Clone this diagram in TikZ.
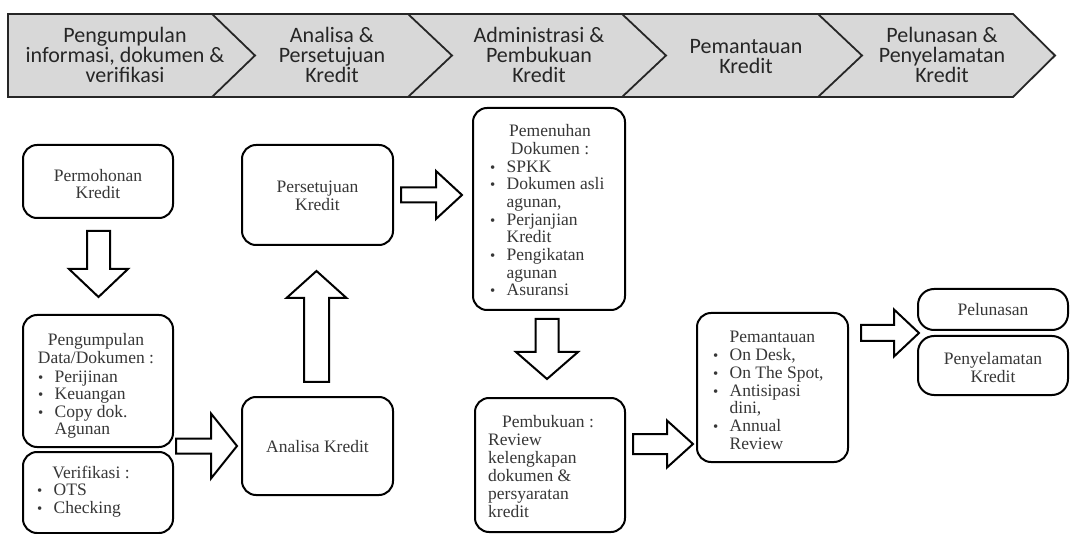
\documentclass[tikz,border=0pt]{standalone}
\usepackage{fontspec}
\setmainfont{Liberation Serif}
\newfontfamily\hdrfont{Carlito}
\usetikzlibrary{calc}

\definecolor{bandfill}{RGB}{216,216,216}
\definecolor{bandtext}{RGB}{38,38,38}
\definecolor{boxtext}{RGB}{55,55,55}

% bullet item with a fixed hanging indent
\newcommand\itm[1]{\makebox[16.5pt][l]{\scalebox{0.85}{\textbullet}}#1}
\newcommand\ind[1]{\hspace*{16.5pt}#1}

% block arrows: from, to, shaft half width, head half width, head length
\newcommand\harrow[5]{%
  \draw[blk] let \p1=(#1), \p2=(#2) in
    (\x1,\y1+#3) -- (\x2-#5,\y1+#3) -- (\x2-#5,\y1+#4) -- (\x2,\y1)
    -- (\x2-#5,\y1-#4) -- (\x2-#5,\y1-#3) -- (\x1,\y1-#3) -- cycle;}
\newcommand\darrow[5]{%
  \draw[blk] let \p1=(#1), \p2=(#2) in
    (\x1-#3,\y1) -- (\x1-#3,\y2+#5) -- (\x1-#4,\y2+#5) -- (\x1,\y2)
    -- (\x1+#4,\y2+#5) -- (\x1+#3,\y2+#5) -- (\x1+#3,\y1) -- cycle;}
\newcommand\uarrow[5]{%
  \draw[blk] let \p1=(#1), \p2=(#2) in
    (\x1-#3,\y1) -- (\x1-#3,\y2-#5) -- (\x1-#4,\y2-#5) -- (\x1,\y2)
    -- (\x1+#4,\y2-#5) -- (\x1+#3,\y2-#5) -- (\x1+#3,\y1) -- cycle;}

\begin{document}
\begin{tikzpicture}[x=1pt,y=-1pt,
  band/.style={draw=bandtext,line width=1.8pt,fill=bandfill,line join=miter},
  bandline/.style={draw=bandtext,line width=1.8pt},
  hdr/.style={align=center,inner sep=0pt,text=bandtext,
    font=\hdrfont\fontsize{22}{20}\selectfont},
  box/.style={draw=black,line width=2pt,rounded corners=14pt,fill=white,
    inner sep=0pt},
  txt/.style={inner sep=0pt,text=boxtext,
    font=\fontsize{17.5}{17.5}\selectfont},
  ctxt/.style={txt,align=center},
  ltxt/.style={txt,align=left,anchor=north west},
  blk/.style={draw=black,line width=2pt,fill=white,line join=miter}]

\useasboundingbox (0,0) rectangle (1076,534);

% ---- phase band ----
\draw[band] (8,14) -- (1013,14) -- (1055,55.5) -- (1013,97) -- (8,97) -- cycle;
\draw[bandline] (212,14) -- (255,55.5) -- (212,97);
\draw[bandline] (408,14) -- (452,55.5) -- (408,97);
\draw[bandline] (622,14) -- (666,55.5) -- (622,97);
\draw[bandline] (818,14) -- (862,55.5) -- (818,97);

\node[hdr] (h1) at (125,55) {Pengumpulan\\informasi, dokumen \&\\verifikasi};
\node[hdr] (h2) at (332,55) {Analisa \&\\Persetujuan\\Kredit};
\node[hdr] (h3) at (539,55) {Administrasi \&\\Pembukuan\\Kredit};
\node[hdr] (h4) at (746,57) {Pemantauan\\Kredit};
\node[hdr] (h5) at (942,55) {Pelunasan \&\\Penyelamatan\\Kredit};

% ---- process boxes ----
\node[box,minimum width=150,minimum height=73]  (perm)   at (98,181.5)  {};
\node[box,minimum width=150,minimum height=132] (peng)   at (98,381)    {};
\node[box,minimum width=150,minimum height=81]  (verif)  at (98,492.5)  {};
\node[box,minimum width=151,minimum height=100] (pers)   at (317.5,195) {};
\node[box,minimum width=151,minimum height=98]  (anal)   at (317.5,446) {};
\node[box,minimum width=152,minimum height=202] (pemen)  at (549,209)   {};
\node[box,minimum width=150,minimum height=134] (pembuk) at (550,465)   {};
\node[box,minimum width=151,minimum height=149] (pemant) at (772.5,387.5) {};
\node[box,minimum width=150,minimum height=41,rounded corners=16pt] (pelun) at (993,309.5) {};
\node[box,minimum width=150,minimum height=59,rounded corners=16pt] (penye) at (993,365.5) {};

% ---- box texts ----
\node[ctxt] (permT) at (98,184) {Permohonan\\Kredit};

\node[ctxt] (pengH) at (96,348.5) {Pengumpulan\\Data/Dokumen :};
\node[ltxt] (pengL) at (38,370)
  {\strut\itm{Perijinan}\\\itm{Keuangan}\\\itm{Copy dok.}\\\ind{Agunan}};

\node[ctxt] (verifH) at (91,472) {Verifikasi :};
\node[ltxt] (verifL) at (37,483.5) {\strut\itm{OTS}\\\itm{Checking}};

\node[ctxt] (persT) at (317.5,196) {Persetujuan\\Kredit};
\node[ctxt] (analT) at (317.5,447) {Analisa Kredit};

\node[ctxt] (pemenH) at (550,139.5) {Pemenuhan\\Dokumen :};
\node[ltxt,font=\fontsize{17.5}{17.7}\selectfont] (pemenL) at (490,159.5)
  {\strut\itm{SPKK}\\\itm{Dokumen asli}\\\ind{agunan,}\\\itm{Perjanjian}\\
   \ind{Kredit}\\\itm{Pengikatan}\\\ind{agunan}\\\itm{Asuransi}};

\node[ctxt] (pembukH) at (548,422) {Pembukuan :};
\node[ltxt,font=\fontsize{17.5}{18}\selectfont] (pembukL) at (488,433)
  {\strut Review\\kelengkapan\\dokumen \&\\persyaratan\\kredit};

\node[ltxt,font=\fontsize{17.5}{17.8}\selectfont] (pemantL) at (713,330)
  {\strut\ind{Pemantauan}\\\itm{On Desk,}\\\itm{On The Spot,}\\\itm{Antisipasi}\\
   \ind{dini,}\\\itm{Annual}\\\ind{Review}};

\node[ctxt] (pelunT) at (993,310) {Pelunasan};
\node[ctxt] (penyeT) at (993,367.5) {Penyelamatan\\Kredit};

% ---- block arrows between the boxes ----
\coordinate (gap) at ($(pelun.south west)!.5!(penye.north west)$);

\darrow{$(perm.south)+(0.5,12)$}{$(peng.north)+(0.5,-17)$}{11.5pt}{29.5pt}{28pt}
\harrow{$(peng.east |- anal.west)+(2,0)$}{$(anal.west)+(-4,0)$}{7.5pt}{32.5pt}{26pt}
\uarrow{$(anal.north)+(-1,-14)$}{$(pers.south)+(-1,25)$}{12.5pt}{30pt}{27pt}
\harrow{$(pers.east)+(7,0)$}{$(pemen.west)+(-10,0)$}{7.5pt}{24pt}{26pt}
\darrow{$(pemen.south)+(-2,8)$}{$(pembuk.north)+(-2,-18)$}{11.5pt}{31pt}{27pt}
\harrow{$(pembuk.east)+(7,-21)$}{$(pemant.west)+(-3,0)$}{10pt}{23.5pt}{26pt}
\harrow{$(pemant.east |- gap)+(12,0)$}{$(pelun.west)+(2,0)$}{8pt}{23.5pt}{25pt}

\end{tikzpicture}
\end{document}
